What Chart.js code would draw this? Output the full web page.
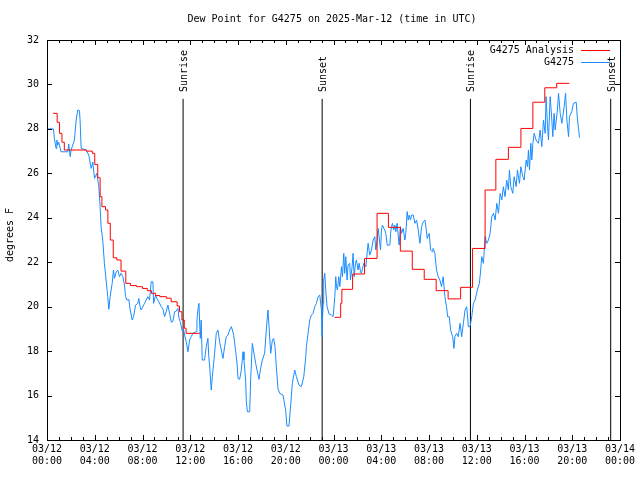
<!DOCTYPE html>
<html>
<head>
<meta charset="utf-8">
<script src="https://cdn.jsdelivr.net/npm/chart.js@4.4.1/dist/chart.umd.min.js"></script>
<style>
  html, body { margin: 0; padding: 0; background: #fff; }
  #wrap { width: 640px; height: 480px; }
</style>
</head>
<body>
<div id="wrap"><canvas id="dewChart" width="640" height="480"></canvas></div>
<script>
'use strict';

// hours since 2025-03-12 00:00 UTC
const analysisHours = [0.5, 0.85, 1.05, 1.25, 1.45, 3.3, 3.8, 4.0, 4.25, 4.45, 4.6, 4.9, 5.1, 5.3, 5.55, 5.85, 6.2, 6.6, 7.0, 7.5, 8.0, 8.4, 8.75, 9.1, 9.45, 10.0, 10.4, 10.9, 11.1, 11.3, 11.5, 11.65, 12.8,
  18.0,
  24.1, 24.6, 24.7, 25.6, 26.6, 27.65, 28.6, 29.6, 30.6, 31.6, 32.6, 33.6, 34.65, 35.65, 36.7, 37.6, 38.65, 39.7, 40.7, 41.7, 42.7, 43.75];
const analysisDewPt = [28.7, 28.3, 27.8, 27.4, 27.05, 27.0, 26.9, 26.4, 25.8, 24.95, 24.5, 24.35, 23.75, 23.0, 22.2, 22.1, 21.6, 21.05, 20.95, 20.9, 20.82, 20.72, 20.6, 20.5, 20.45, 20.38, 20.22, 20.03, 19.77, 19.4, 19.03, 18.8, 18.8,
  null,
  19.52, 20.15, 20.78, 21.47, 22.17, 24.2, 23.57, 22.5, 21.68, 21.23, 20.72, 20.35, 20.87, 22.62, 25.25, 26.63, 27.17, 28.02, 29.2, 29.85, 30.05, 30.05];

const obsHours = [0.0, 0.54, 0.62, 0.76, 0.82, 0.9, 0.98, 1.18, 1.74, 1.82, 1.94, 2.02, 2.3, 2.44, 2.58, 2.72, 2.77, 2.86, 3.28, 3.5, 3.7, 3.84, 3.98, 4.17, 4.34, 4.45, 4.53, 4.67, 4.81, 4.95,
  5.09, 5.18, 5.29, 5.46, 5.57, 5.65, 5.8, 5.93, 6.07, 6.21, 6.35, 6.49, 6.58, 6.69, 6.86, 6.97, 7.14, 7.25, 7.42, 7.61, 7.69, 7.8, 7.89, 8.17, 8.45, 8.59, 8.73, 8.87, 8.93, 9.1,
  9.21, 9.37, 9.57, 9.71, 9.85, 10.0, 10.13, 10.27, 10.41, 10.55, 10.69, 10.83, 10.97, 11.05, 11.16, 11.33, 11.45, 11.53, 11.67, 11.81, 11.95, 12.08, 12.23, 12.51, 12.56, 12.64, 12.73, 12.78, 12.84, 12.92,
  13.0, 13.2, 13.34, 13.48, 13.55, 13.62, 13.76, 13.85, 13.96, 14.04, 14.18, 14.32, 14.46, 14.6, 14.74, 14.88, 15.02, 15.16, 15.3, 15.44, 15.53, 15.64, 15.81, 15.92, 16.0, 16.14, 16.28, 16.42, 16.5, 16.64,
  16.7, 16.79, 16.98, 17.06, 17.2, 17.34, 17.48, 17.62, 17.76, 17.87, 18.04, 18.23, 18.37, 18.51, 18.6, 18.74, 18.88, 18.99, 19.1, 19.21, 19.35, 19.49, 19.77, 19.99, 20.1, 20.27, 20.38, 20.55, 20.75, 20.89,
  21.11, 21.31, 21.51, 21.68, 21.73, 21.87, 22.01, 22.15, 22.29, 22.43, 22.57, 22.71, 22.85, 22.99, 23.04, 23.07, 23.13, 23.18, 23.27, 23.35, 23.46, 23.63, 23.83, 23.97, 24.11, 24.19, 24.25, 24.33, 24.44, 24.53,
  24.67, 24.75, 24.86, 24.94, 25.03, 25.14, 25.22, 25.36, 25.42, 25.56, 25.64, 25.73, 25.84, 25.92, 26.06, 26.15, 26.26, 26.34, 26.43, 26.54, 26.71, 26.76, 26.9, 27.04, 27.18, 27.32, 27.46, 27.54, 27.66, 27.74,
  27.82, 27.94, 28.02, 28.1, 28.22, 28.3, 28.38, 28.5, 28.72, 28.78, 28.86, 28.94, 29.05, 29.14, 29.22, 29.33, 29.42, 29.5, 29.61, 29.7, 29.84, 29.98, 30.06, 30.17, 30.26, 30.34, 30.45, 30.54, 30.68, 30.82,
  30.96, 31.1, 31.24, 31.38, 31.52, 31.66, 31.74, 31.85, 32.02, 32.13, 32.3, 32.35, 32.49, 32.63, 32.77, 32.91, 33.05, 33.19, 33.33, 33.47, 33.56, 33.7, 33.81, 33.98, 34.09, 34.17, 34.31, 34.45, 34.6, 34.74,
  34.88, 35.02, 35.16, 35.3, 35.44, 35.58, 35.72, 35.86, 36.05, 36.22, 36.33, 36.42, 36.56, 36.7, 36.84, 36.98, 37.12, 37.26, 37.4, 37.54, 37.68, 37.82, 37.96, 38.1, 38.23, 38.37, 38.51, 38.65, 38.74, 38.85,
  39.02, 39.13, 39.3, 39.41, 39.58, 39.69, 39.86, 39.97, 40.14, 40.25, 40.33, 40.42, 40.53, 40.61, 40.7, 40.81, 40.97, 41.17, 41.31, 41.45, 41.59, 41.73, 41.81, 41.93, 42.01, 42.15, 42.29, 42.37, 42.48, 42.57,
  42.76, 42.85, 42.99, 43.13, 43.21, 43.32, 43.44, 43.55, 43.69, 43.77, 43.97, 44.1, 44.33, 44.44, 44.53, 44.61];
const obsDewPt = [28.0, 28.0, 27.57, 27.12, 27.5, 27.27, 27.4, 26.97, 26.97, 27.32, 26.75, 27.05, 27.5, 28.4, 28.85, 28.82, 28.4, 27.12, 27.05, 26.82, 26.22, 26.5, 25.77, 26.0, 25.4, 24.5, 23.6, 23.0, 21.95, 21.2,
  20.45, 19.88, 20.45, 21.05, 21.65, 21.27, 21.57, 21.65, 21.35, 21.5, 21.35, 20.97, 20.45, 20.3, 20.32, 19.85, 19.4, 19.55, 20.07, 20.15, 20.37, 20.0, 19.85, 20.15, 20.45, 20.3, 21.12, 21.12, 20.15, 20.52,
  20.37, 20.22, 20.0, 19.9, 19.55, 19.8, 20.07, 19.7, 19.3, 19.35, 19.77, 19.8, 19.93, 19.5, 19.32, 18.9, 18.95, 18.72, 18.4, 17.97, 18.5, 18.65, 18.8, 18.88, 19.4, 19.85, 20.15, 19.4, 18.57, 19.4,
  17.6, 17.6, 18.2, 18.57, 17.75, 17.37, 16.25, 16.85, 17.45, 17.9, 18.8, 18.95, 18.42, 18.05, 17.67, 18.2, 18.65, 18.72, 18.95, 19.1, 18.95, 18.72, 17.97, 17.45, 16.77, 16.73, 17.15, 17.97, 17.6, 16.7,
  15.72, 15.27, 15.27, 16.7, 18.35, 17.9, 17.45, 17.07, 16.73, 17.15, 17.6, 17.9, 18.95, 19.85, 19.1, 17.9, 18.5, 18.57, 18.2, 17.3, 16.32, 16.1, 16.02, 15.35, 14.63, 14.63, 15.35, 16.55, 17.15, 16.85,
  16.47, 16.4, 16.85, 17.75, 18.2, 18.8, 19.4, 19.62, 19.7, 20.0, 20.15, 20.45, 20.52, 19.85, 18.65, 19.25, 20.15, 21.2, 21.5, 20.75, 20.0, 19.67, 19.62, 19.55, 20.45, 21.35, 20.9, 20.75, 21.35, 20.9,
  21.8, 21.35, 22.4, 21.5, 22.25, 21.2, 21.87, 21.95, 21.2, 21.8, 22.4, 21.35, 21.95, 22.1, 21.65, 21.95, 21.57, 21.5, 21.72, 21.95, 21.8, 22.1, 22.85, 22.32, 22.55, 23.0, 23.15, 22.55, 23.0, 23.52,
  23.15, 22.55, 23.45, 23.67, 23.52, 23.45, 23.3, 22.77, 22.77, 23.3, 23.6, 23.75, 23.45, 23.67, 23.37, 23.75, 23.22, 22.77, 23.6, 23.3, 23.52, 23.0, 23.3, 24.28, 23.9, 24.12, 23.9, 24.12, 24.12, 23.75,
  23.9, 23.45, 22.85, 23.6, 23.82, 23.9, 23.6, 23.07, 23.3, 22.55, 22.47, 22.62, 22.4, 21.65, 21.35, 21.2, 20.9, 21.35, 20.45, 20.0, 19.55, 19.55, 18.95, 18.65, 18.12, 18.65, 18.8, 18.65, 19.25, 18.65,
  19.25, 19.85, 20.0, 19.1, 19.1, 19.55, 20.15, 20.3, 20.75, 21.05, 21.65, 22.25, 21.95, 23.15, 22.85, 23.0, 23.3, 24.05, 24.2, 23.9, 24.65, 24.2, 25.1, 24.8, 25.4, 24.95, 25.7, 25.25, 26.15, 25.4,
  25.1, 25.85, 25.4, 26.15, 25.55, 26.3, 25.85, 25.7, 26.6, 26.3, 27.05, 26.15, 27.35, 26.6, 27.35, 27.8, 27.5, 27.35, 27.95, 27.2, 28.4, 27.8, 29.45, 28.1, 27.5, 29.45, 28.4, 27.65, 28.7, 27.95,
  28.85, 29.6, 28.7, 28.25, 28.55, 29.0, 29.6, 28.4, 27.65, 28.55, 28.8, 29.15, 29.2, 28.4, 28.0, 27.6];

const sunHours = [11.4, 23.05, 35.47, 47.22];
const sunNames = ['Sunrise', 'Sunset', 'Sunrise', 'Sunset'];
const sunLineTop = 29.35;

const xTickLabels = [
  ['03/12', '00:00'], ['03/12', '04:00'], ['03/12', '08:00'], ['03/12', '12:00'], ['03/12', '16:00'], ['03/12', '20:00'],
  ['03/13', '00:00'], ['03/13', '04:00'], ['03/13', '08:00'], ['03/13', '12:00'], ['03/13', '16:00'], ['03/13', '20:00'],
  ['03/14', '00:00']
];

const FONT = '"DejaVu Sans Mono", "Liberation Mono", monospace';

const toPoints = (xs, ys) => xs.map((x, i) => ({ x: x, y: ys[i] }));

const sunSets = sunHours.map(h => ({
  data: [{ x: h, y: 14 }, { x: h, y: sunLineTop }],
  borderColor: '#000',
  borderWidth: 1,
  pointRadius: 0,
  fill: false
}));

// gnuplot-ish frame: box, inward ticks, title, legend, sun labels
const frame = {
  id: 'frame',
  afterDraw(chart) {
    const ctx = chart.ctx;
    const a = chart.chartArea;
    const xs = chart.scales.x;
    const ys = chart.scales.y;
    ctx.save();
    ctx.strokeStyle = '#000';
    ctx.lineWidth = 1;
    ctx.strokeRect(Math.round(a.left) + 0.5, Math.round(a.top) + 0.5, Math.round(a.right - a.left), Math.round(a.bottom - a.top));

    ctx.beginPath();
    for (let h = 0; h <= 48; h++) {
      const px = Math.round(xs.getPixelForValue(h)) + 0.5;
      const len = h % 4 === 0 ? 5 : 3;
      ctx.moveTo(px, a.bottom); ctx.lineTo(px, a.bottom - len);
      ctx.moveTo(px, a.top); ctx.lineTo(px, a.top + len);
    }
    for (let v = 14; v <= 32; v += 2) {
      const py = Math.round(ys.getPixelForValue(v)) + 0.5;
      ctx.moveTo(a.left, py); ctx.lineTo(a.left + 5, py);
      ctx.moveTo(a.right, py); ctx.lineTo(a.right - 5, py);
    }
    ctx.stroke();

    ctx.fillStyle = '#000';
    ctx.font = '10px ' + FONT;
    ctx.textAlign = 'center';
    ctx.textBaseline = 'middle';
    ctx.fillText('Dew Point for G4275 on 2025-Mar-12 (time in UTC)', 332, 19);

    ctx.save();
    ctx.translate(10, 235);
    ctx.rotate(-Math.PI / 2);
    ctx.fillText('degrees F', 0, 0);
    ctx.restore();

    sunHours.forEach((h, i) => {
      ctx.save();
      ctx.translate(Math.round(xs.getPixelForValue(h)) + 1, 92);
      ctx.rotate(-Math.PI / 2);
      ctx.textAlign = 'left';
      ctx.fillText(sunNames[i], 0, 0);
      ctx.restore();
    });

    const legend = [['G4275 Analysis', '#ff0000', 50], ['G4275', '#1a8cff', 62]];
    legend.forEach(([txt, col, y]) => {
      ctx.textAlign = 'right';
      ctx.fillStyle = '#000';
      ctx.fillText(txt, 574, y);
      ctx.strokeStyle = col;
      ctx.beginPath();
      ctx.moveTo(581, y + 0.5);
      ctx.lineTo(610, y + 0.5);
      ctx.stroke();
    });
    ctx.restore();
  }
};

new Chart(document.getElementById('dewChart'), {
  type: 'line',
  data: {
    datasets: [
      {
        label: 'G4275 Analysis',
        data: toPoints(analysisHours, analysisDewPt),
        borderColor: '#ff0000',
        borderWidth: 1,
        pointRadius: 0,
        stepped: true,
        spanGaps: false
      },
      {
        label: 'G4275',
        data: toPoints(obsHours, obsDewPt),
        borderColor: '#1a8cff',
        borderWidth: 1,
        pointRadius: 0,
        tension: 0
      }
    ].concat(sunSets)
  },
  options: {
    responsive: false,
    animation: false,
    devicePixelRatio: 1,
    layout: { padding: { left: 0, right: 20, top: 40, bottom: 0 } },
    plugins: { legend: { display: false }, tooltip: { enabled: false }, title: { display: false } },
    scales: {
      x: {
        type: 'linear',
        min: 0,
        max: 48,
        afterFit: s => { s.height = 40; },
        grid: { display: false, drawTicks: false },
        border: { display: false },
        ticks: {
          stepSize: 4,
          autoSkip: false,
          maxRotation: 0,
          padding: 3,
          color: '#000',
          font: { family: FONT, size: 10 },
          callback: v => xTickLabels[Math.round(v / 4)]
        }
      },
      y: {
        min: 14,
        max: 32,
        afterFit: s => { s.width = 47; },
        grid: { display: false, drawTicks: false },
        border: { display: false },
        ticks: {
          stepSize: 2,
          padding: 8,
          color: '#000',
          font: { family: FONT, size: 10 }
        }
      }
    }
  },
  plugins: [frame]
});
</script>
</body>
</html>
